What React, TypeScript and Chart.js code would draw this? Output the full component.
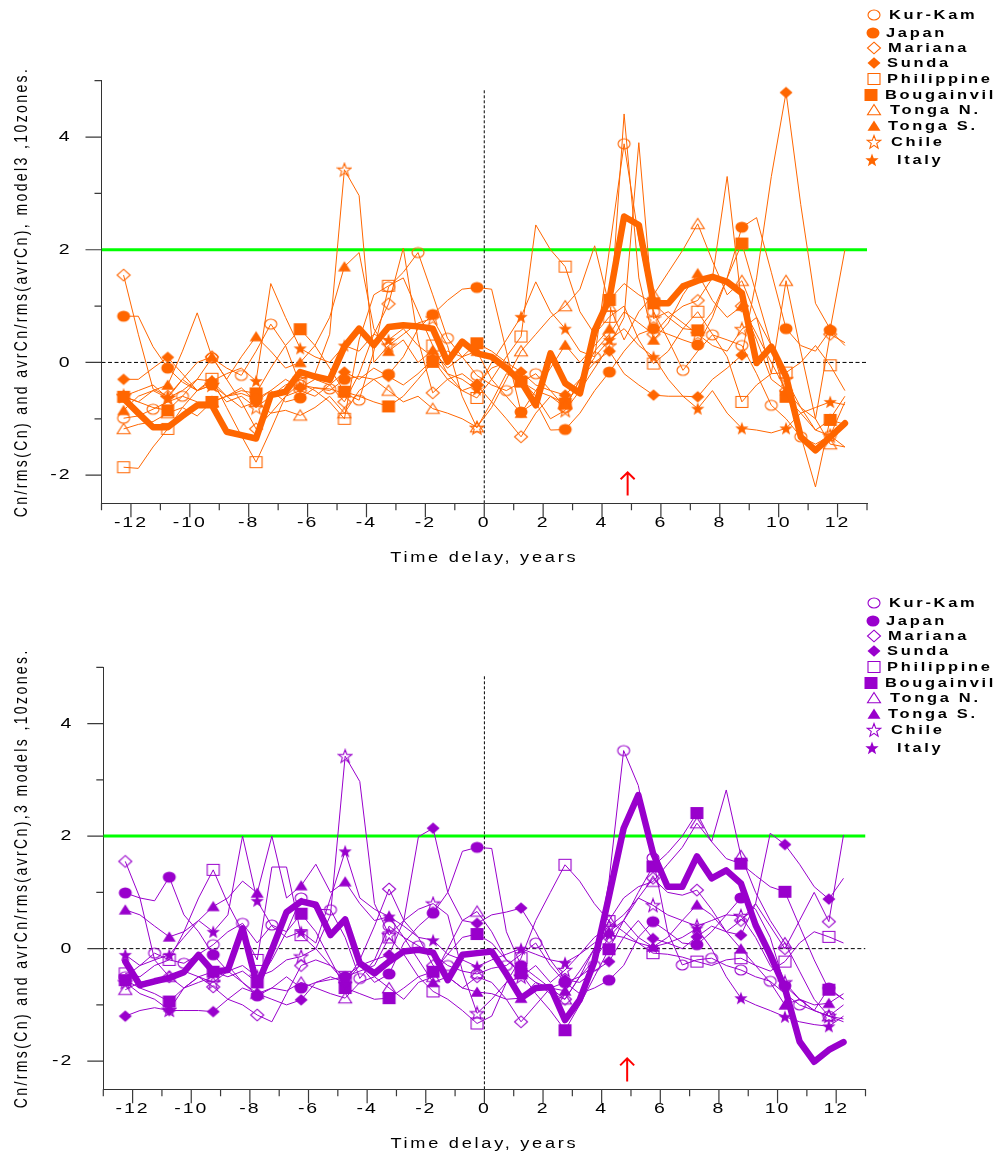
import React, { useEffect, useMemo, useRef } from "react";
import { Chart, registerables } from "chart.js";

Chart.register(...registerables);

// ---------------- data ----------------
const TIME = [
  -12.25, -11.75, -11.25, -10.75, -10.25, -9.75, -9.25, -8.75, -8.25, -7.75,
  -7.25, -6.75, -6.25, -5.75, -5.25, -4.75, -4.25, -3.75, -3.25, -2.75,
  -2.25, -1.75, -1.25, -0.75, -0.25, 0.25, 0.75, 1.25, 1.75, 2.25,
  2.75, 3.25, 3.75, 4.25, 4.75, 5.25, 5.75, 6.25, 6.75, 7.25,
  7.75, 8.25, 8.75, 9.25, 9.75, 10.25, 10.75, 11.25, 11.75, 12.25,
];
const X_TICK_LABELS = [-12, -10, -8, -6, -4, -2, 0, 2, 4, 6, 8, 10, 12];
const Y_TICK_LABELS = [4, 2, 0, -2];
const ZONES = ["Kur-Kam", "Japan", "Mariana", "Sunda", "Philippine", "Bougainvil", "Tonga N.", "Tonga S.", "Chile", "Italy"];
const THRESHOLD = 2;
const EVENT_DELAY = 4.87;
const ARROW_TIP = -1.95;
const ARROW_TAIL = -2.36;
const ZERO_LINE_TOP = 4.85;

// model3, 10 zones
const M3_KURKAM = [-0.99,-0.95,-0.83,-0.7,-0.6,-0.3,0.08,-0.1,-0.23,0.2, 0.68,0.3,-0.4,-0.45,-0.47,-0.55,-0.67,0.2,1.34,1.6, 1.95,1.2,0.43,0.1,-0.23,-0.4,-0.5,-0.35,-0.2,-0.5, -0.8,-0.3,0.09,2.0,3.88,2.2,0.9,0.4,-0.14,0.2, 0.49,0.4,0.3,-0.2,-0.76,-1.0,-1.32,-1.45,-1.3,-1.5];
const M3_JAPAN = [0.82,0.82,0.28,-0.1,-0.35,-0.5,-0.4,-0.6,-0.55,-0.65, -0.5,-0.7,-0.63,-0.45,-0.5,-0.3,-0.25,-0.3,-0.21,0.1, 0.6,0.85,1.1,1.3,1.33,1.3,0.2,-0.88,-0.7,-1.2, -1.19,-0.9,-0.5,-0.17,0.2,0.5,0.6,0.5,0.4,0.31, 0.8,1.5,2.4,2.57,1.6,0.6,0.3,0.2,0.57,0.3];
const M3_MARIANA = [1.55,0.5,-0.47,-0.6,-0.3,0.0,0.1,-0.3,-0.7,-1.18, -0.9,-0.6,-0.5,-0.6,-0.4,-0.7,-0.2,0.5,1.04,2.03, 0.4,-0.54,-0.3,-0.5,-0.4,-0.7,-1.0,-1.32,-0.9,-0.6, -0.8,-0.3,0.2,0.5,0.9,0.7,0.5,0.8,1.0,1.1, 1.5,3.3,1.0,0.4,-0.3,-0.5,-0.8,-1.0,0.5,0.35];
const M3_SUNDA = [-0.3,-0.3,-0.1,0.09,-0.2,-0.5,-0.33,-0.6,-0.45,-0.7, -0.5,-0.3,-0.45,-0.3,-0.4,-0.17,-0.3,-0.1,-0.25,-0.4, -0.2,0.05,-0.3,-0.2,-0.4,-0.1,0.0,-0.17,-0.4,-0.5, -0.58,-0.3,0.0,0.2,-0.2,-0.4,-0.58,-0.6,-0.6,-0.61, -0.3,-0.1,0.13,1.5,3.3,4.79,2.8,1.05,0.59,2.0];
const M3_PHILIPPINE = [-1.86,-1.88,-1.5,-1.18,-0.8,-0.5,-0.29,-0.8,-1.3,-1.77, -1.2,-0.6,-0.37,-0.5,-0.7,-1.0,0.4,1.2,1.36,1.5, 0.9,0.3,-0.2,-0.5,-0.63,-0.3,0.1,0.46,2.44,2.0, 1.7,0.9,0.5,0.81,1.0,0.4,-0.02,0.2,0.6,0.9, 0.5,0.1,-0.7,-0.4,-0.2,-0.18,0.0,0.3,-0.05,-0.5];
const M3_BOUGAINVIL = [-0.61,-0.7,-0.8,-0.85,-0.6,-0.7,-0.7,-0.6,-0.5,-0.55, -0.1,0.3,0.59,0.3,-0.1,-0.52,-0.6,-0.7,-0.78,-0.6, -0.3,0.01,0.2,0.1,0.34,0.2,0.0,-0.34,-0.5,-0.6, -0.73,-0.4,0.4,1.11,1.4,1.2,1.05,0.8,0.6,0.57, 0.9,1.5,2.11,1.2,0.3,-0.61,-0.9,-1.2,-1.02,-1.1];
const M3_TONGA_N = [-1.18,-1.1,-1.05,-0.9,-0.8,-0.95,-0.7,-0.6,-0.8,-0.7, -0.9,-0.85,-0.94,-0.8,-0.6,-0.9,-0.5,-0.3,-0.5,-0.7, -0.6,-0.82,-0.9,-1.0,-1.15,-0.8,-0.3,0.2,0.5,0.8, 1.0,1.3,2.07,1.0,0.4,0.9,1.2,1.6,2.0,2.46, 1.8,1.2,1.45,0.8,-0.2,1.45,0.2,-1.0,-1.45,-1.5];
const M3_TONGA_S = [-0.85,-0.6,-0.5,-0.4,0.2,0.88,0.1,-0.3,0.1,0.46, 0.2,-0.1,0.0,0.3,0.8,1.7,1.95,0.6,0.2,0.4, 0.0,0.22,-0.1,0.1,0.2,-0.3,-0.6,-0.9,-0.5,-0.1, 0.31,0.0,0.3,0.6,4.41,1.5,0.4,0.7,1.2,1.58, 1.1,0.8,1.0,0.5,0.0,-0.5,-1.3,-2.21,-1.0,-0.6];
const M3_CHILE = [-0.6,-0.7,-0.5,-0.63,-0.3,-0.5,-0.4,-0.7,-0.6,-0.8, -0.6,-0.4,-0.3,-0.2,0.5,3.42,2.96,0.0,0.3,0.5, 0.7,0.78,0.3,-0.6,-1.16,-0.7,-0.2,-0.3,-0.6,-1.0, -0.85,-0.5,-0.1,0.3,0.8,3.9,0.78,0.9,0.7,0.5, 0.3,0.2,0.59,0.8,0.3,-0.3,-0.8,-1.2,-1.3,-0.7];
const M3_ITALY = [-0.6,-0.5,-0.4,-0.63,-0.5,-0.3,-0.33,-0.2,-0.1,-0.33, 1.4,0.8,0.25,0.1,0.0,0.3,0.2,0.5,0.4,0.6, 0.3,0.1,-0.2,-0.3,-0.48,0.0,0.4,0.81,1.43,0.9, 0.6,0.2,0.1,0.4,0.6,0.3,0.1,-0.3,-0.6,-0.82, -0.5,-0.9,-1.17,-1.2,-1.25,-1.17,-0.9,-0.8,-0.7,-0.75];
const M3_AVERAGE = [-0.64,-0.9,-1.15,-1.15,-0.95,-0.76,-0.76,-1.23,-1.29,-1.35, -0.58,-0.52,-0.17,-0.25,-0.31,0.28,0.6,0.31,0.63,0.66, 0.64,0.6,0.01,0.37,0.16,0.1,-0.1,-0.34,-0.76,0.16, -0.37,-0.55,0.57,1.13,2.59,2.44,1.05,1.05,1.35,1.45, 1.52,1.43,1.23,-0.01,0.28,-0.25,-1.32,-1.56,-1.32,-1.08];

// 3 models, 10 zones
const ALL_KURKAM = [-0.5,-0.3,-0.08,-0.2,-0.26,-0.1,0.07,0.3,0.45,0.1, 0.42,0.3,0.9,0.7,0.69,0.2,-0.53,-0.2,0.4,0.2, 0.05,-0.1,-0.3,-0.4,-0.45,-0.35,-0.3,-0.1,0.1,-0.3, -0.6,-0.5,-0.3,1.2,3.52,2.9,1.61,0.3,-0.29,-0.2, -0.17,-0.3,-0.38,-0.5,-0.58,-0.8,-1.0,-1.1,-1.2,-1.25];
const ALL_JAPAN = [0.99,0.9,0.85,1.27,0.6,0.3,-0.11,-0.4,-0.6,-0.84, -0.7,-0.5,-0.7,-0.6,-0.55,-0.5,-0.3,-0.6,-0.45,0.1, 0.4,0.63,1.0,1.73,1.8,1.78,0.3,-0.3,-0.5,-0.7, -0.6,-0.8,-0.7,-0.56,-0.3,0.2,0.48,0.3,0.1,0.07, 0.3,0.6,0.9,0.7,0.2,-0.66,-0.9,-1.1,-0.7,-0.9];
const ALL_MARIANA = [1.55,0.9,-0.2,-0.5,-0.4,-0.5,-0.68,-0.9,-1.0,-1.18, -1.3,-0.8,-0.3,-0.2,-0.3,-0.6,-0.2,0.4,1.06,0.5, 0.2,-0.3,-0.5,-0.7,-0.5,-0.6,-0.9,-1.3,-1.0,-0.7, -0.9,-0.5,-0.2,0.2,0.5,0.9,1.25,1.0,0.95,1.04, 0.7,0.3,0.5,0.8,0.4,0.0,0.5,1.0,0.48,2.02];
const ALL_SUNDA = [-1.2,-1.1,-1.05,-1.1,-1.1,-1.1,-1.12,-0.9,-0.7,-0.8, -0.9,-1.0,-0.91,-0.6,-0.5,-0.6,-0.3,-0.2,-0.11,0.5, 1.99,2.14,1.0,0.5,0.45,0.6,0.65,0.72,0.3,-0.2, -0.55,-0.6,-0.4,-0.23,0.2,0.5,0.18,0.1,0.0,0.21, 0.4,0.3,0.24,0.8,2.05,1.85,1.5,1.1,0.88,1.25];
const ALL_PHILIPPINE = [-0.44,-0.5,-0.3,-0.2,0.3,0.9,1.4,0.8,0.3,-0.2, 1.45,1.45,0.24,0.0,-0.3,-0.5,-0.4,-0.3,0.2,-0.1, -0.5,-0.76,-0.9,-1.1,-1.33,-1.2,-0.6,-0.17,0.5,1.0, 1.49,1.2,0.8,0.49,0.3,0.1,-0.08,-0.1,-0.15,-0.23, -0.3,-0.2,-0.17,-0.3,-0.4,-0.23,0.1,0.3,0.21,0.1];
const ALL_BOUGAINVIL = [-0.56,-0.7,-0.8,-0.94,-0.7,-0.5,-0.41,-0.5,-0.4,-0.6, -0.2,0.3,0.62,0.3,-0.2,-0.7,-0.8,-0.9,-0.88,-0.7, -0.5,-0.41,-0.1,0.2,0.26,0.1,-0.2,-0.44,-0.8,-1.1, -1.45,-1.0,-0.5,-0.01,0.5,1.0,1.46,1.7,2.0,2.41, 1.9,1.6,1.51,1.3,1.1,1.01,0.4,-0.2,-0.73,-0.9];
const ALL_TONGA_N = [-0.73,-0.6,-0.55,-0.5,-0.7,-0.6,-0.5,-0.3,-0.6,-0.8, -0.7,-0.75,-0.6,-0.7,-0.8,-0.88,-0.6,-0.5,-0.7,-0.9, -0.6,-0.5,0.0,0.5,0.66,0.3,-0.2,-0.4,-0.6,-0.8, -0.9,-0.5,0.0,0.5,0.9,1.1,1.19,1.5,1.8,2.23, 1.9,2.82,1.65,1.0,0.5,0.1,-0.4,-0.9,-1.2,-1.3];
const ALL_TONGA_S = [0.69,0.6,0.4,0.21,0.3,0.5,0.75,0.9,1.2,0.99, 2.0,0.9,1.12,1.5,1.0,1.19,0.8,0.5,0.57,0.2, -0.2,-0.6,-0.5,-0.7,-0.77,-0.8,-0.9,-0.88,-0.6,-0.7, -0.75,-0.4,0.0,0.3,0.5,0.2,0.03,0.2,0.5,0.78, 0.6,0.3,0.0,-0.3,-0.6,-1.0,-0.9,-1.0,-0.97,-0.8];
const ALL_CHILE = [-0.6,-0.8,-0.9,-1.09,-0.7,-0.5,-0.6,-0.4,-0.3,-0.5, -0.4,-0.2,-0.14,0.0,0.6,3.42,2.97,0.8,0.24,0.5, 0.7,0.8,0.6,-0.4,-1.15,-0.9,-0.6,-0.5,-0.3,-0.6, -0.38,-0.1,0.2,0.39,0.6,0.9,0.77,0.6,0.5,0.4, 0.5,0.6,0.58,0.2,-0.3,-0.6,-0.9,-1.1,-1.2,-1.0];
const ALL_ITALY = [-0.11,-0.3,-0.2,-0.11,0.2,0.5,0.3,0.6,2.0,0.85, 0.4,0.2,0.3,0.1,0.9,1.73,0.9,0.7,0.57,0.4, 0.2,0.15,-0.1,-0.2,-0.32,-0.2,-0.1,0.0,-0.1,-0.2, -0.25,-0.1,0.1,0.25,0.2,0.1,0.03,0.1,0.2,0.36, 0.0,-0.5,-0.88,-1.0,-1.1,-1.21,-1.3,-1.35,-1.38,-1.2];
const ALL_AVERAGE = [-0.23,-0.65,-0.58,-0.52,-0.42,-0.11,-0.41,-0.38,0.36,-0.65, -0.02,0.65,0.84,0.78,0.24,0.52,-0.26,-0.44,-0.23,-0.05, -0.02,-0.07,-0.56,-0.11,-0.08,-0.05,-0.45,-0.88,-0.7,-0.68, -1.27,-0.91,-0.23,0.93,2.14,2.73,1.7,1.1,1.1,1.64, 1.25,1.39,1.16,0.42,-0.11,-0.7,-1.65,-2.01,-1.8,-1.66];

const M3_SERIES = [M3_KURKAM, M3_JAPAN, M3_MARIANA, M3_SUNDA, M3_PHILIPPINE, M3_BOUGAINVIL, M3_TONGA_N, M3_TONGA_S, M3_CHILE, M3_ITALY];
const ALL_SERIES = [ALL_KURKAM, ALL_JAPAN, ALL_MARIANA, ALL_SUNDA, ALL_PHILIPPINE, ALL_BOUGAINVIL, ALL_TONGA_N, ALL_TONGA_S, ALL_CHILE, ALL_ITALY];

// ---------------- styles ----------------
type Shape = "circle" | "diamond" | "square" | "triangle" | "star";
const MARKER_SHAPES: Shape[] = ["circle", "circle", "diamond", "diamond", "square", "square", "triangle", "triangle", "star", "star"];
const MARKER_FILLED = [false, true, false, true, false, true, false, true, false, true];
const MARKER_EVERY = [2, 3, 3, 3, 3, 3, 3, 3, 3, 3];
const FONT = '"Liberation Sans", Arial, Helvetica, sans-serif';

const LEGEND_ROW_Y = [15, 33, 48, 63, 79, 95, 110, 126, 142, 160];
const LEGEND_TEXT_X = [889, 886, 888, 887, 887, 885, 890, 888, 891, 897];
const LEGEND_MARK_X = [874, 873, 874, 874, 874, 871, 874, 874, 874, 872];

function makeMarker(shape: Shape, filled: boolean, color: string): HTMLCanvasElement {
  const size = 16;
  const c = document.createElement("canvas");
  c.width = size;
  c.height = size;
  const g = c.getContext("2d")!;
  const cx = size / 2;
  const cy = size / 2;
  g.fillStyle = color;
  g.strokeStyle = color;
  g.lineWidth = 1.1;
  g.beginPath();
  if (shape === "circle") {
    g.ellipse(cx, cy, filled ? 6.5 : 6, filled ? 5.5 : 5, 0, 0, Math.PI * 2);
  } else if (shape === "diamond") {
    g.moveTo(cx, cy - 5.8);
    g.lineTo(cx + 6.5, cy);
    g.lineTo(cx, cy + 5.8);
    g.lineTo(cx - 6.5, cy);
    g.closePath();
  } else if (shape === "square") {
    if (filled) g.rect(cx - 6.5, cy - 6, 13, 12);
    else g.rect(cx - 6, cy - 5.5, 12, 11);
  } else if (shape === "triangle") {
    g.moveTo(cx, cy - 5.5);
    g.lineTo(cx + 6.5, cy + 4.8);
    g.lineTo(cx - 6.5, cy + 4.8);
    g.closePath();
  } else {
    for (let k = 0; k < 10; k++) {
      const r = k % 2 === 0 ? 7 : 2.9;
      const a = -Math.PI / 2 + (k * Math.PI) / 5;
      const px = cx + r * Math.cos(a);
      const py = cy + 0.5 + r * Math.sin(a);
      if (k === 0) g.moveTo(px, py);
      else g.lineTo(px, py);
    }
    g.closePath();
  }
  if (filled) g.fill();
  else g.stroke();
  return c;
}

interface TextOpts {
  size: number;
  align: CanvasTextAlign;
  stretch: number;
  spacing: number;
  rotate?: boolean;
  bold?: boolean;
}

function drawText(ctx: CanvasRenderingContext2D, text: string, x: number, y: number, o: TextOpts) {
  ctx.save();
  ctx.translate(x, y);
  if (o.rotate) {
    ctx.rotate(-Math.PI / 2);
    ctx.scale(1, o.stretch);
  } else {
    ctx.scale(o.stretch, 1);
  }
  (ctx as any).letterSpacing = o.spacing + "px";
  ctx.font = `${o.bold ? "bold " : ""}${o.size}px ${FONT}`;
  ctx.fillStyle = "#000";
  ctx.textAlign = o.align;
  ctx.textBaseline = "middle";
  ctx.fillText(text, 0, 0);
  ctx.restore();
}

interface Area {
  left: number;
  right: number;
  top: number;
  bottom: number;
}

interface PanelProps {
  top: number;
  height: number;
  area: Area;
  color: string;
  series: number[][];
  average: number[];
  yTitle: string;
  legendOffset: number;
}

function Panel({ top, height, area, color, series, average, yTitle, legendOffset }: PanelProps) {
  const ref = useRef<HTMLCanvasElement>(null);
  const legendIcons = useMemo(
    () => MARKER_SHAPES.map((s, k) => makeMarker(s, MARKER_FILLED[k], color).toDataURL()),
    [color]
  );

  useEffect(() => {
    const canvas = ref.current;
    if (!canvas) return;
    const markers = MARKER_SHAPES.map((s, k) => makeMarker(s, MARKER_FILLED[k], color));

    const datasets: any[] = [];
    datasets.push({
      label: "average",
      data: TIME.map((x, i) => ({ x, y: average[i] })),
      borderColor: color,
      borderWidth: 6.5,
      borderJoinStyle: "round",
      borderCapStyle: "round",
      pointRadius: 0,
      tension: 0,
      order: 0,
    });
    series.forEach((vals, k) => {
      datasets.push({
        label: ZONES[k],
        data: TIME.map((x, i) => ({ x, y: vals[i] })),
        borderColor: color,
        backgroundColor: color,
        borderWidth: 1,
        tension: 0,
        pointStyle: markers[k],
        pointRadius: (c: any) => (c.dataIndex % MARKER_EVERY[k] === 0 ? 6 : 0),
        order: 1,
      });
    });
    datasets.push({
      label: "threshold",
      data: [
        { x: -13, y: THRESHOLD },
        { x: 13, y: THRESHOLD },
      ],
      borderColor: "#00FF00",
      borderWidth: 3,
      pointRadius: 0,
      order: 3,
    });
    datasets.push({
      label: "zeroY",
      data: [
        { x: -13, y: 0 },
        { x: 13, y: 0 },
      ],
      borderColor: "#000",
      borderWidth: 1,
      borderDash: [4, 2.5],
      pointRadius: 0,
      order: 2,
    });
    datasets.push({
      label: "zeroX",
      data: [
        { x: 0, y: -2.5 },
        { x: 0, y: ZERO_LINE_TOP },
      ],
      borderColor: "#000",
      borderWidth: 1,
      borderDash: [3, 2],
      pointRadius: 0,
      order: 2,
    });

    const textPlugin = {
      id: "axisText",
      afterDatasetsDraw(chart: any) {
        const { ctx, scales } = chart;
        const px = scales.x.getPixelForValue(EVENT_DELAY);
        const yTip = scales.y.getPixelForValue(ARROW_TIP);
        const yTail = scales.y.getPixelForValue(ARROW_TAIL);
        ctx.save();
        ctx.strokeStyle = "#FF0000";
        ctx.lineWidth = 2;
        ctx.beginPath();
        ctx.moveTo(px, yTail);
        ctx.lineTo(px, yTip);
        ctx.moveTo(px - 7, yTip + 7);
        ctx.lineTo(px, yTip);
        ctx.lineTo(px + 7, yTip + 7);
        ctx.stroke();
        ctx.restore();
      },
      afterDraw(chart: any) {
        const { ctx, chartArea: a, scales } = chart;
        const xs = scales.x;
        const ys = scales.y;
        ctx.save();
        ctx.strokeStyle = "#3a3a3a";
        ctx.lineWidth = 1.2;
        ctx.beginPath();
        for (let v = Math.ceil(xs.min); v <= Math.floor(xs.max); v++) {
          const p = xs.getPixelForValue(v);
          const len = v % 2 === 0 ? 14 : 7;
          ctx.moveTo(p, a.bottom);
          ctx.lineTo(p, a.bottom + len);
        }
        for (let v = Math.ceil(ys.min); v <= Math.floor(ys.max); v++) {
          const p = ys.getPixelForValue(v);
          const len = v % 2 === 0 ? 16 : 7;
          ctx.moveTo(a.left - len, p);
          ctx.lineTo(a.left, p);
        }
        ctx.stroke();
        ctx.restore();

        X_TICK_LABELS.forEach((v) => {
          drawText(ctx, String(v), xs.getPixelForValue(v), a.bottom + 20, { size: 15, align: "center", stretch: 1.3, spacing: 1.5 });
        });
        Y_TICK_LABELS.forEach((v) => {
          drawText(ctx, String(v), a.left - 30, ys.getPixelForValue(v), { size: 15, align: "right", stretch: 1.3, spacing: 1.5 });
        });
        drawText(ctx, "Time delay, years", (a.left + a.right) / 2, a.bottom + 54.5, { size: 14, align: "center", stretch: 1.3, spacing: 2.1 });
        drawText(ctx, yTitle, 21.5, (a.top + a.bottom) / 2, { size: 14, align: "center", stretch: 1.35, spacing: 2.4, rotate: true });
      },
    };

    const chart = new Chart(canvas, {
      type: "line",
      data: { datasets },
      options: {
        animation: false,
        responsive: false,
        events: [],
        layout: {
          autoPadding: false,
          padding: { left: 0, top: area.top, right: 998 - area.right, bottom: 0 },
        },
        plugins: { legend: { display: false }, tooltip: { enabled: false }, title: { display: false } },
        scales: {
          x: {
            type: "linear",
            min: -13,
            max: 13,
            grid: { display: false },
            border: { display: true, color: "#333", width: 1 },
            ticks: { display: false },
            afterFit: (s: any) => {
              s.height = height - area.bottom;
            },
          },
          y: {
            type: "linear",
            min: -2.5,
            max: 5,
            grid: { display: false },
            border: { display: true, color: "#333", width: 1 },
            ticks: { display: false },
            afterFit: (s: any) => {
              s.width = area.left;
            },
          },
        },
      } as any,
      plugins: [textPlugin],
    });
    return () => chart.destroy();
  }, [area, color, series, average, yTitle, height]);

  return (
    <div style={{ position: "absolute", left: 0, top, width: 998, height }}>
      <canvas ref={ref} width={998} height={height} style={{ display: "block", width: 998, height }} />
      {ZONES.map((z, k) => (
        <React.Fragment key={z}>
          <img
            src={legendIcons[k]}
            alt=""
            style={{ position: "absolute", left: LEGEND_MARK_X[k] - 8, top: LEGEND_ROW_Y[k] + legendOffset - 8, width: 16, height: 16 }}
          />
          <span
            style={{
              position: "absolute",
              left: LEGEND_TEXT_X[k],
              top: LEGEND_ROW_Y[k] + legendOffset - 8,
              height: 16,
              lineHeight: "16px",
              fontFamily: FONT,
              fontWeight: "bold",
              fontSize: 13.5,
              letterSpacing: 2.2,
              whiteSpace: "nowrap",
              color: "#000",
              transform: "scaleX(1.22)",
              transformOrigin: "left center",
            }}
          >
            {z}
          </span>
        </React.Fragment>
      ))}
    </div>
  );
}

const TOP_AREA: Area = { left: 101.5, right: 867, top: 80.7, bottom: 503.3 };
const BOTTOM_AREA: Area = { left: 103.3, right: 865.5, top: 80.3, bottom: 502.3 };

export default function App() {
  useEffect(() => {
    document.body.style.margin = "0";
  }, []);
  return (
    <div style={{ position: "absolute", left: 0, top: 0, width: 998, height: 1155, background: "#fff", overflow: "hidden" }}>
      <Panel
        top={0}
        height={587}
        area={TOP_AREA}
        color="#FF6600"
        series={M3_SERIES}
        average={M3_AVERAGE}
        yTitle="Cn/rms(Cn) and avrCn/rms(avrCn), model3 ,10zones."
        legendOffset={0}
      />
      <Panel
        top={587}
        height={568}
        area={BOTTOM_AREA}
        color="#9900CC"
        series={ALL_SERIES}
        average={ALL_AVERAGE}
        yTitle="Cn/rms(Cn) and avrCn/rms(avrCn),3 models ,10zones."
        legendOffset={1}
      />
    </div>
  );
}
